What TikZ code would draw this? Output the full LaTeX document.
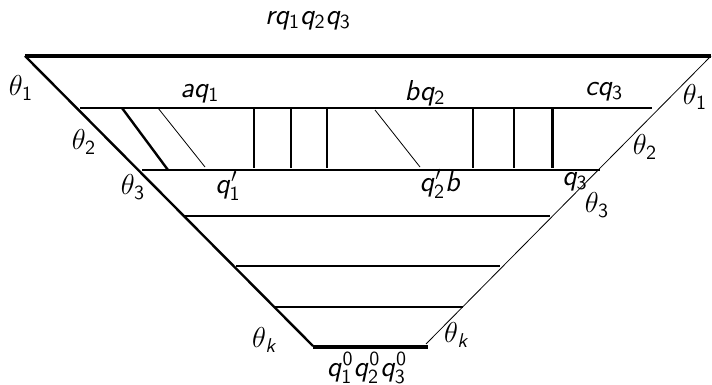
\documentclass[tikz,border=0pt]{standalone}
\usepackage{amsmath}
\usepackage{tikz}
\usetikzlibrary{positioning}
\DeclareMathAlphabet{\mathsfit}{OT1}{cmss}{m}{sl}
\DeclareMathAlphabet{\mathsfup}{OT1}{cmss}{m}{n}
\newcommand{\sv}[2]{\mathsfit{#1}_{\mathsfup{#2}}}

\begin{document}
\begin{tikzpicture}[x=0.5pt,y=-0.5pt,
        every node/.style={font=\fontsize{14}{16}\selectfont, inner sep=0pt}]
        \useasboundingbox (0,0) rectangle (712,385);
        %外枠
        \coordinate (tl) at (25,56);
        \coordinate (tr) at (711,56);
        \coordinate (bl) at (313,346);
        \coordinate (br) at (426,344);
        \draw[line width=1.7pt] (tl)--(tr);
        \draw[very thick] (tl)--(bl);
        \draw[thin] (tr)--(br);
        \draw[line width=1.6pt] (313,347)--(428,347);
        %横線
        \foreach \y/\xl/\xr in {108/80/652, 170/142/600, 216/183/550, 266/236/500, 307/275/463}
            \draw[very thick] (\xl,\y)--(\xr,\y);
        %帯の中の線
        \draw[very thick] (122,108)--(168,170);
        \draw[thin] (158,108)--(205,167);
        \draw[thin] (375,110)--(420,167);
        \foreach \x in {254,291,327,473,514}
            \draw[very thick] (\x,108)--(\x,168);
        \draw[line width=1.5pt] (552,108)--(552,168);
        %ラベル
        \node (top) at (308,21) {$\mathsfit{r}\sv{q}{1}\sv{q}{2}\sv{q}{3}$};
        \node (bot) at (367,368) {$\mathsfit{q}^{\mathsfup{0}}_{\mathsfup{1}}\mathsfit{q}^{\mathsfup{0}}_{\mathsfup{2}}\mathsfit{q}^{\mathsfup{0}}_{\mathsfup{3}}$};
        \node (aq) at (200,94) {$\mathsfit{a}\sv{q}{1}$};
        \node (bq) at (425,93) {$\mathsfit{b}\sv{q}{2}$};
        \node (cq) at (604,92) {$\mathsfit{c}\sv{q}{3}$};
        \node (qa) at (228,186) {$\mathsfit{q}_{\mathsfup{1}}'$};
        \node (qb) at (440,184) {$\mathsfit{q}_{\mathsfup{2}}'\mathsfit{b}$};
        \node (qc) at (575,182) {$\sv{q}{3}$};
        \node (l1) at (21,88) {$\theta_{\mathsfup{1}}$};
        \node (l2) at (84,142) {$\theta_{\mathsfup{2}}$};
        \node (l3) at (133,187) {$\theta_{\mathsfup{3}}$};
        \node (lk) at (265,340) {$\theta_{\mathsfit{k}}$};
        \node (r1) at (695,97) {$\theta_{\mathsfup{1}}$};
        \node (r2) at (645,147) {$\theta_{\mathsfup{2}}$};
        \node (r3) at (597,205) {$\theta_{\mathsfup{3}}$};
        \node (rk) at (457,335) {$\theta_{\mathsfit{k}}$};
    \end{tikzpicture}
\end{document}
